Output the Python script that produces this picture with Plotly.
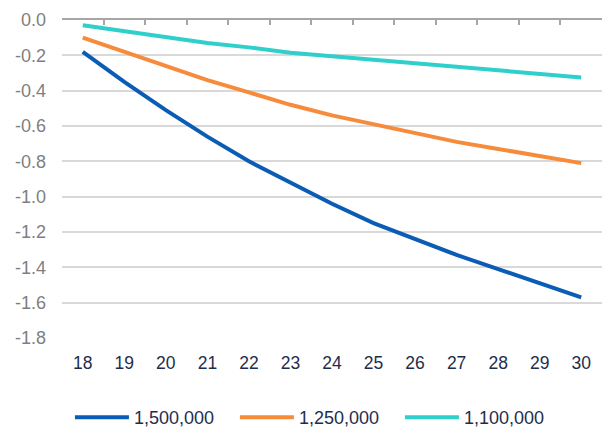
import plotly.graph_objects as go

# Age on the x axis
ages = ["18", "19", "20", "21", "22", "23", "24", "25", "26", "27", "28", "29", "30"]

# Change by scenario
s_1500000 = [-0.18, -0.35, -0.51, -0.66, -0.80, -0.92, -1.04, -1.15, -1.24, -1.33, -1.41, -1.49, -1.57]
s_1250000 = [-0.10, -0.18, -0.26, -0.34, -0.41, -0.48, -0.54, -0.59, -0.64, -0.69, -0.73, -0.77, -0.81]
s_1100000 = [-0.03, -0.065, -0.10, -0.13, -0.155, -0.185, -0.205, -0.225, -0.25, -0.27, -0.285, -0.305, -0.325]

series_names = ["1,500,000", "1,250,000", "1,100,000"]
series_colors = ["#0B5CB5", "#F68B3B", "#2FCFCB"]

y_ticks = [0.0, -0.2, -0.4, -0.6, -0.8, -1.0, -1.2, -1.4, -1.6, -1.8]

FONT = "Liberation Sans, Arial, sans-serif"

fig = go.Figure()
for name, vals, col in zip(series_names, [s_1500000, s_1250000, s_1100000], series_colors):
    fig.add_trace(go.Scatter(
        x=ages, y=vals, name=name, mode="lines",
        line=dict(color=col, width=4),
    ))

# hidden trace so the top axis (zero line with tick marks) gets its categories
fig.add_trace(go.Scatter(
    x=ages, y=s_1100000, xaxis="x2", mode="lines", showlegend=False,
    line=dict(width=0), opacity=0, hoverinfo="skip",
))

fig.update_layout(
    width=611, height=445,
    margin=dict(l=62, r=9, t=20, b=105),
    paper_bgcolor="white", plot_bgcolor="white",
    font=dict(family=FONT, size=18, color="#1F2D4D"),
    xaxis=dict(
        type="category", categoryorder="array", categoryarray=ages,
        range=[-0.5, 12.5], showgrid=False, showline=False, zeroline=False,
        ticks="", ticklabelstandoff=12,
        tickfont=dict(family=FONT, size=17.5, color="#1F2D4D"),
    ),
    xaxis2=dict(
        type="category", categoryorder="array", categoryarray=ages,
        range=[-0.5, 12.5], overlaying="x", side="top", anchor="y",
        showline=True, linecolor="#A6A6A6", linewidth=1.5,
        ticks="inside", tickson="boundaries", ticklen=5, tickcolor="#A6A6A6",
        tickwidth=1.5, showticklabels=False, showgrid=False, zeroline=False,
    ),
    yaxis=dict(
        range=[-1.8, 0.0], tickvals=y_ticks,
        ticktext=[f"{v:.1f}" for v in y_ticks],
        showgrid=True, gridcolor="#D9D9D9", gridwidth=1.5,
        zeroline=False, showline=False, ticks="", ticklabelstandoff=15,
        tickfont=dict(family=FONT, size=18, color="#7F7F7F"),
    ),
    legend=dict(
        orientation="h", x=0.473, xanchor="center", y=-0.25, yanchor="middle",
        font=dict(family=FONT, size=18, color="#1F2D4D"),
        entrywidth=96, entrywidthmode="pixels", itemwidth=54,
    ),
    showlegend=True,
)

fig.write_html("out.html")
